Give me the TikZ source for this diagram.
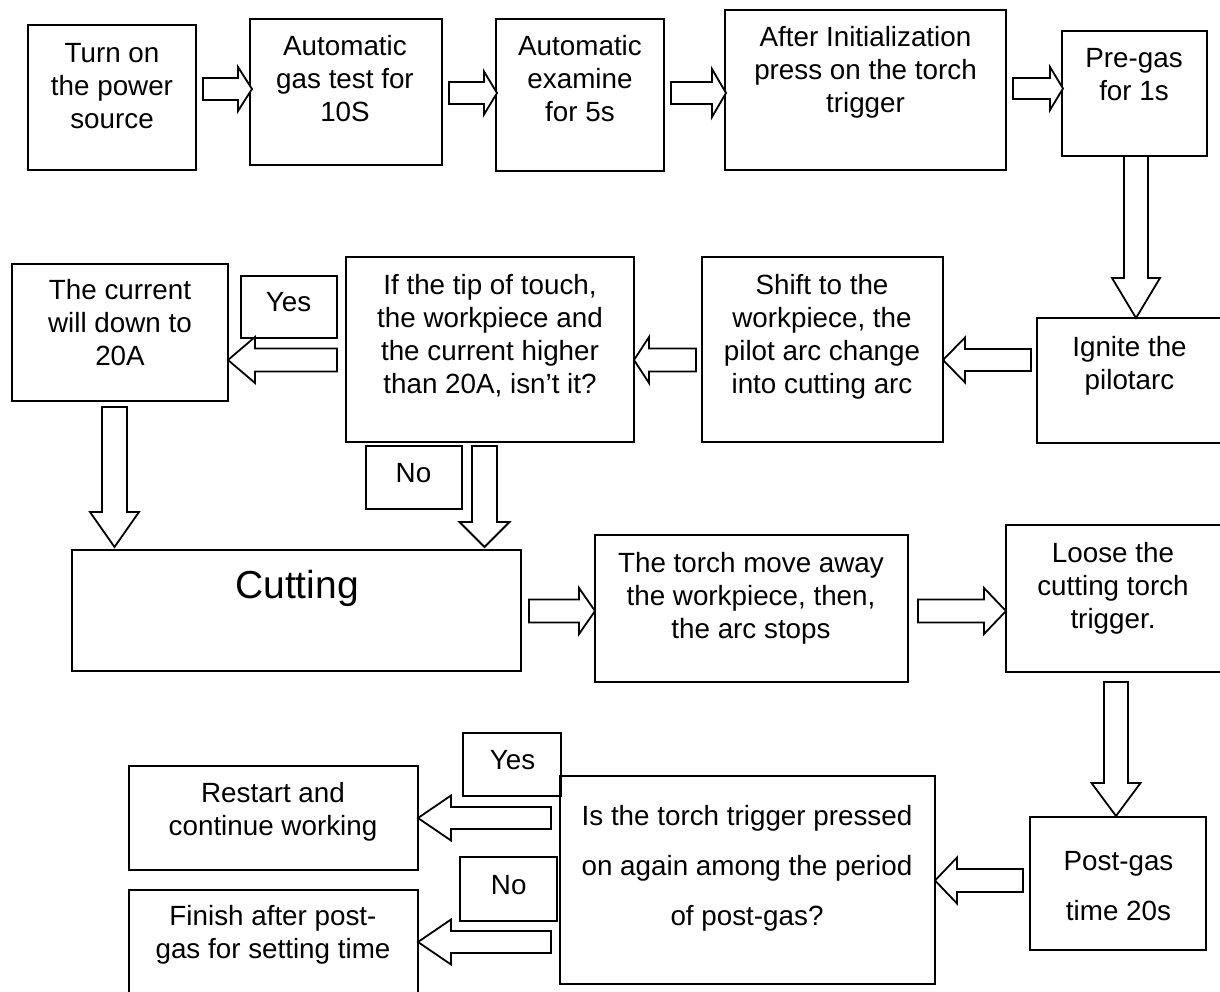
\documentclass[tikz,border=0pt]{standalone}
\usepackage{fontspec}
\setmainfont{Liberation Sans}
\newcommand\harrow[6]{% x0, xhead, xtip, ycenter, shaft half, head half
  \draw[blk] (#1,#4-#5) -- (#2,#4-#5) -- (#2,#4-#6) -- (#3,#4) -- (#2,#4+#6) -- (#2,#4+#5) -- (#1,#4+#5) -- cycle;}
\newcommand\varrow[6]{% xcenter, y0, yhead, ytip, shaft half, head half
  \draw[blk] (#1-#5,#2) -- (#1-#5,#3) -- (#1-#6,#3) -- (#1,#4) -- (#1+#6,#3) -- (#1+#5,#3) -- (#1+#5,#2) -- cycle;}
\newcommand\bx[5]{\node[box, minimum width={#4-#2}, minimum height={#5-#3}] (#1) at ({(#2+#4)/2},{(#3+#5)/2}) {};}
\tikzset{
  box/.style={draw, line width=2pt, inner sep=0pt, outer sep=0pt},
  blk/.style={draw, line width=1.8pt, fill=white, line join=miter},
  txt/.style={inner sep=0pt, anchor=north, align=center, font=\fontsize{27.8}{33}\selectfont},
  txtw/.style={txt, font=\fontsize{27.8}{50}\selectfont},
}
\begin{document}
\begin{tikzpicture}[x=1pt,y=-1pt]
\useasboundingbox (0,0) rectangle (1220,992);
\fill[white] (0,0) rectangle (1220,992);
% boxes
\bx{b1}{28}{25}{196}{170}
\bx{b2}{250}{19}{442}{165}
\bx{b3}{496}{19}{664}{171}
\bx{b4}{725}{10}{1006}{170}
\bx{b5}{1062}{31}{1207}{156}
\bx{ign}{1037}{318}{1222}{443}
\bx{shift}{702}{257}{943}{442}
\bx{ifb}{346}{257}{634}{442}
\bx{cur}{12}{264}{228}{401}
\bx{yesa}{241}{276}{337}{338}
\bx{noa}{366}{446}{462}{509}
\bx{cut}{72}{550}{521}{671}
\bx{torch}{595}{535}{908}{682}
\bx{loose}{1006}{525}{1222}{672}
\bx{post}{1030}{817}{1206}{950}
\bx{isb}{560}{776}{935}{984}
\bx{yesb}{463}{733}{561}{796}
\bx{nob}{460}{857}{557}{921}
\bx{restart}{129}{766}{418}{870}
\bx{finish}{129}{890}{418}{994}
% texts
\node[txt] (t1) at (112,42.75) {Turn on\\the power\\source};
\node[txt] (t2) at (345,35.25) {Automatic\\gas test for\\10S};
\node[txt] (t3) at (580,35.25) {Automatic\\examine\\for 5s};
\node[txt] (t4) at (865.5,26.25) {After Initialization\\press on the torch\\trigger};
\node[txt] (t5) at (1134,48.25) {Pre-gas\\for 1s};
\node[txt] (tign) at (1129.5,336.25) {Ignite the\\pilotarc};
\node[txt] (tshift) at (822,274.25) {Shift to the\\workpiece, the\\pilot arc change\\into cutting arc};
\node[txt] (tif) at (490,274.25) {If the tip of touch,\\the workpiece and\\the current higher\\than 20A, isn’t it?};
\node[txt] (tcur) at (120,279.25) {The current\\will down to\\20A};
\node[txt] (tyesa) at (288.5,292) {Yes};
\node[txt] (tnoa) at (413.5,463.5) {No};
\node[inner sep=0pt, anchor=base, font=\fontsize{39}{45}\selectfont] (tcut) at (297,598) {Cutting};
\node[txt] (ttorch) at (751,551.75) {The torch move away\\the workpiece, then,\\the arc stops};
\node[txt] (tloose) at (1113,541.75) {Loose the\\cutting torch\\trigger.};
\node[txtw] (tpost) at (1118.5,851.4) {Post-gas\\time 20s};
\node[txtw] (tis) at (747,805.4) {Is the torch trigger pressed\\on again among the period\\of post-gas?};
\node[txt] (tyesb) at (512.5,750.5) {Yes};
\node[txt] (tnob) at (508.7,875) {No};
\node[txt] (trestart) at (273,782.25) {Restart and\\continue working};
\node[txt] (tfinish) at (273,905.25) {Finish after post-\\gas for setting time};
% block arrows
\harrow{203}{238}{252}{89}{11}{22}
\harrow{449}{484}{497}{93}{11}{21.5}
\harrow{671}{712}{726}{93}{11}{24}
\harrow{1013}{1050}{1063}{88.5}{10.5}{21.5}
\varrow{1136}{156}{278}{318}{12}{24}
\harrow{1031}{965}{943}{360}{11}{22.5}
\harrow{696}{649}{634}{360}{11.5}{23}
\harrow{337}{255}{228}{360}{11.5}{23}
\varrow{114.5}{407}{512}{547}{12.5}{24.5}
\varrow{484.5}{446}{522}{547}{12.5}{25}
\harrow{529}{579}{595}{611}{11.5}{23}
\harrow{918}{984}{1006}{611}{11.5}{23}
\varrow{1116}{682}{783}{816}{12}{24.5}
\harrow{1023}{957}{935}{880.5}{11.5}{23}
\harrow{551}{451}{418}{818}{11}{22.5}
\harrow{551}{451}{418}{942}{11}{22.5}
\end{tikzpicture}
\end{document}
